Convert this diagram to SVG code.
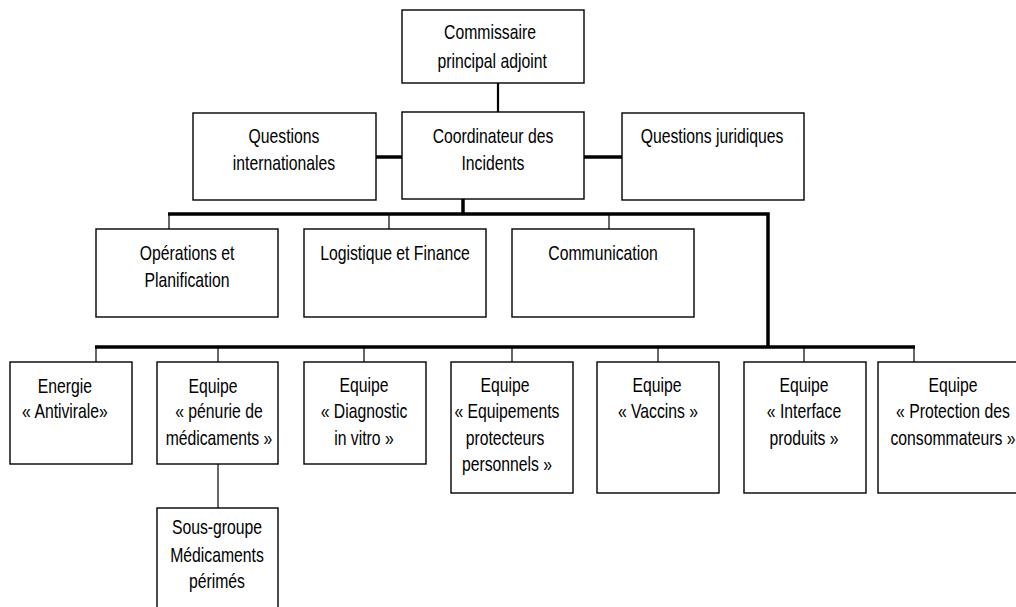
<svg xmlns="http://www.w3.org/2000/svg" width="1016" height="607" viewBox="0 0 1016 607">
<style>
.box{fill:#fff;stroke:#000;stroke-width:1.4}
.t{font-family:"Liberation Sans Narrow","Liberation Sans",sans-serif;font-size:21px;fill:#000;text-anchor:middle;transform-box:fill-box;transform-origin:center;transform:scale(0.75,1)}
.thick{stroke:#000;stroke-width:3.5;fill:none}
.thin{stroke:#000;stroke-width:1.2;fill:none}
.mid{stroke:#000;stroke-width:2.2;fill:none}
</style>
<rect width="1016" height="607" fill="#fff"/>
<g id="connectors">
<line class="mid" x1="498" y1="83" x2="498" y2="112"/>
<line class="thick" x1="376" y1="157" x2="402" y2="157"/>
<line class="thick" x1="584" y1="157" x2="622" y2="157"/>
<line class="thick" x1="463" y1="199" x2="463" y2="214"/>
<polyline class="thick" points="168,214 768,214 768,347"/>
<line class="thin" x1="169" y1="214" x2="169" y2="229"/>
<line class="thin" x1="389" y1="214" x2="389" y2="229"/>
<line class="thin" x1="609" y1="214" x2="609" y2="229"/>
<line class="thick" x1="95" y1="347" x2="915" y2="347"/>
<line class="thin" x1="96" y1="347" x2="96" y2="362"/>
<line class="thin" x1="218" y1="347" x2="218" y2="362"/>
<line class="thin" x1="364" y1="347" x2="364" y2="362"/>
<line class="thin" x1="512" y1="347" x2="512" y2="362"/>
<line class="thin" x1="658" y1="347" x2="658" y2="362"/>
<line class="thin" x1="804" y1="347" x2="804" y2="362"/>
<line class="thin" x1="914" y1="347" x2="914" y2="362"/>
<line class="thin" x1="218" y1="464" x2="218" y2="508"/>
</g>
<g id="commissaire">
<rect class="box" x="402" y="10" width="182" height="73"/>
<text class="t" x="490" y="39">Commissaire</text>
<text class="t" x="492" y="68">principal adjoint</text>
</g>
<g id="coordinateur">
<rect class="box" x="402" y="112" width="182" height="87"/>
<text class="t" x="493" y="143">Coordinateur des</text>
<text class="t" x="493" y="170">Incidents</text>
</g>
<g id="internationales">
<rect class="box" x="193" y="113" width="183" height="87"/>
<text class="t" x="284" y="143">Questions</text>
<text class="t" x="284" y="170">internationales</text>
</g>
<g id="juridiques">
<rect class="box" x="622" y="113" width="182" height="87"/>
<text class="t" x="712" y="143">Questions juridiques</text>
</g>
<g id="operations">
<rect class="box" x="96" y="229" width="182" height="88"/>
<text class="t" x="187" y="260">Opérations et</text>
<text class="t" x="187" y="287">Planification</text>
</g>
<g id="logistique">
<rect class="box" x="304" y="229" width="182" height="88"/>
<text class="t" x="395" y="260">Logistique et Finance</text>
</g>
<g id="communication">
<rect class="box" x="512" y="229" width="182" height="88"/>
<text class="t" x="603" y="260">Communication</text>
</g>
<g id="energie">
<rect class="box" x="10" y="362" width="122" height="102"/>
<text class="t" x="65" y="393">Energie</text>
<text class="t" x="65" y="418">« Antivirale»</text>
</g>
<g id="penurie">
<rect class="box" x="157" y="362" width="121" height="102"/>
<text class="t" x="213" y="393">Equipe</text>
<text class="t" x="219" y="418">« pénurie de</text>
<text class="t" x="219" y="445">médicaments »</text>
</g>
<g id="sousgroupe">
<rect class="box" x="157" y="508" width="121" height="104"/>
<text class="t" x="217" y="534">Sous-groupe</text>
<text class="t" x="217" y="562">Médicaments</text>
<text class="t" x="217" y="588">périmés</text>
</g>
<g id="diagnostic">
<rect class="box" x="304" y="362" width="122" height="102"/>
<text class="t" x="364" y="392">Equipe</text>
<text class="t" x="364" y="418">« Diagnostic</text>
<text class="t" x="364" y="445">in vitro »</text>
</g>
<g id="equipements">
<rect class="box" x="451" y="362" width="122" height="131"/>
<text class="t" x="505" y="392">Equipe</text>
<text class="t" x="507" y="418">« Equipements</text>
<text class="t" x="505" y="445">protecteurs</text>
<text class="t" x="507" y="471">personnels »</text>
</g>
<g id="vaccins">
<rect class="box" x="597" y="362" width="122" height="131"/>
<text class="t" x="657" y="392">Equipe</text>
<text class="t" x="658" y="418">« Vaccins »</text>
</g>
<g id="interface">
<rect class="box" x="744" y="362" width="122" height="131"/>
<text class="t" x="804" y="392">Equipe</text>
<text class="t" x="804" y="418">« Interface</text>
<text class="t" x="804" y="445">produits »</text>
</g>
<g id="protection">
<rect class="box" x="878" y="362" width="154" height="131"/>
<text class="t" x="953" y="392">Equipe</text>
<text class="t" x="953" y="418">« Protection des</text>
<text class="t" x="953" y="445">consommateurs »</text>
</g>
</svg>
